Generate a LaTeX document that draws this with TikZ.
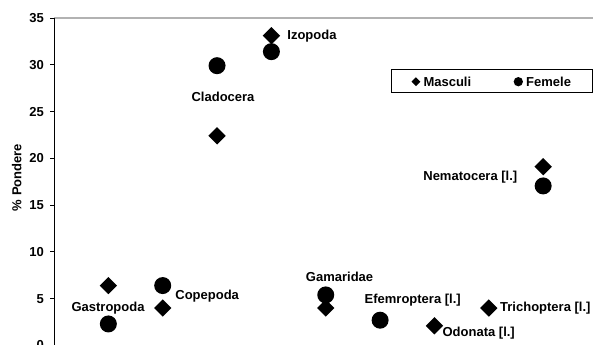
\documentclass[tikz,border=0pt]{standalone}
\usepackage{fontspec}
\setmainfont{Liberation Sans}
\usetikzlibrary{shapes.geometric}

\begin{document}
\begin{tikzpicture}[x=54.35pt,y=9.357pt,font=\fontsize{13}{15}\selectfont\bfseries,
masc/.style={diamond,fill=black,inner sep=0pt,minimum size=17.5pt},
fem/.style={circle,fill=black,inner sep=0pt,minimum size=17pt},
lbl/.style={inner sep=0pt}]
\useasboundingbox (-0.9936,0.05) rectangle (9.917,36.92);

\draw[black!30, line width=1.5pt] (0,35) -- (9.917,35);
\draw[line width=1pt] (0,-1) -- (0,35);
\foreach \y in {0,5,...,35}{
\draw[line width=0.8pt] (-4pt,\y) -- (0,\y);
\node[lbl,anchor=east] (tick\y) at (-10pt,\y) {\y};}
\node[lbl,rotate=90] (ylab) at (-37.2pt,17.95) {\% Pondere};

% masculi and femele
\foreach \x/\y/\n in {1/6.4/gas,2/4.0/cop,3/22.4/cla,4/33.1/izo,5/4.0/gam,7/2.1/odo,8/4.0/tri,9/19.1/nem}{
\node[masc] (m-\n) at (\x,\y) {};}
\foreach \x/\y/\n in {1/2.3/gas,2/6.4/cop,3/29.9/cla,4/31.4/izo,5/5.4/gam,6/2.7/efe,9/17.05/nem}{
\node[fem] (f-\n) at (\x,\y) {};}

\node[lbl] (l-gas) at (0.994,4.0) {Gastropoda};
\node[lbl] (l-cop) at (2.818,5.29) {Copepoda};
\node[lbl] (l-cla) at (3.11,26.56) {Cladocera};
\node[lbl] (l-izo) at (4.746,33.08) {Izopoda};
\node[lbl] (l-gam) at (5.254,7.35) {Gamaridae};
\node[lbl] (l-efe) at (6.6,4.86) {Efemroptera [l.]};
\node[lbl] (l-odo) at (7.814,1.30) {Odonata [l.]};
\node[lbl] (l-tri) at (9.04,3.98) {Trichoptera [l.]};
\node[lbl] (l-nem) at (7.66,17.98) {Nematocera [l.]};

% legend
\draw[line width=0.8pt] (6.20,27.06) rectangle (9.90,29.52);
\node[masc,minimum size=9pt] (leg-m) at (6.66,28.19) {};
\node[lbl,anchor=west] (leg-mt) at (6.795,28.19) {Masculi};
\node[fem,minimum size=9.3pt] (leg-f) at (8.543,28.19) {};
\node[lbl,anchor=west] (leg-ft) at (8.685,28.19) {Femele};
\end{tikzpicture}
\end{document}
